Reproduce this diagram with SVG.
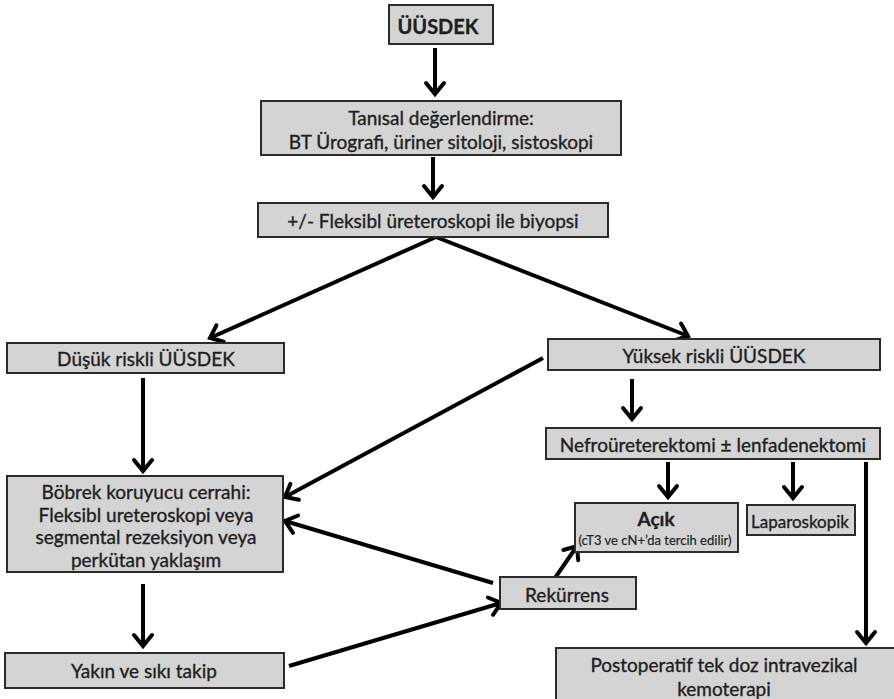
<svg xmlns="http://www.w3.org/2000/svg" width="894" height="699" viewBox="0 0 894 699">
<defs>
<marker id="ah" markerUnits="userSpaceOnUse" markerWidth="30" markerHeight="30" viewBox="-15 -15 30 30" refX="0" refY="0" orient="auto">
<path d="M -11 -9 L 0 0 L -11 9" fill="none" stroke="#000" stroke-width="4" stroke-linecap="round" stroke-linejoin="miter"/>
</marker>
<style>
.box{fill:#d4d4d4;stroke:#2b2b2b;stroke-width:2}
.t{font-family:Lato,"Open Sans","Liberation Sans",sans-serif;font-size:19px;fill:#1e1e1e;stroke:#1e1e1e;stroke-width:0.35px;text-anchor:middle;dominant-baseline:central}
.b{font-weight:bold}
.s{font-size:13px;stroke-width:0.2px}
.c{fill:none;stroke:#000;stroke-width:4;marker-end:url(#ah)}
</style>
</defs>
<rect width="894" height="699" fill="#fff"/>
<g id="connectors">
<line class="c" x1="435" y1="48" x2="435" y2="94"/>
<line class="c" x1="433" y1="157" x2="433" y2="197"/>
<line class="c" x1="436" y1="237" x2="210" y2="338"/>
<line class="c" x1="436" y1="237" x2="688" y2="336"/>
<line class="c" x1="143" y1="378" x2="143" y2="471"/>
<line class="c" x1="543" y1="358" x2="285" y2="497"/>
<line class="c" x1="493" y1="583" x2="285" y2="521"/>
<line class="c" x1="632" y1="379" x2="632" y2="419"/>
<line class="c" x1="668" y1="462" x2="668" y2="497"/>
<line class="c" x1="793" y1="462" x2="793" y2="498"/>
<line class="c" x1="866" y1="462" x2="866" y2="643"/>
<line class="c" x1="555" y1="578" x2="577" y2="546"/>
<line class="c" x1="143" y1="584" x2="143" y2="646"/>
<line class="c" x1="289" y1="666" x2="501" y2="603"/>
</g>
<g id="n_uusdek"><rect class="box" x="389" y="5" width="104" height="39"/><text class="t b" x="438" y="26" style="font-size:20px">ÜÜSDEK</text></g>
<g id="n_tanisal"><rect class="box" x="261" y="101" width="360" height="54"/><text class="t" x="441" y="117">Tanısal değerlendirme:</text><text class="t" x="441" y="141">BT Ürografi, üriner sitoloji, sistoskopi</text></g>
<g id="n_fleksibl"><rect class="box" x="258" y="203" width="350" height="34"/><text class="t" x="433" y="220">+/- Fleksibl üreteroskopi ile biyopsi</text></g>
<g id="n_dusuk"><rect class="box" x="7" y="343" width="277" height="30"/><text class="t" x="146" y="358">Düşük riskli ÜÜSDEK</text></g>
<g id="n_yuksek"><rect class="box" x="548" y="339" width="332" height="31"/><text class="t" x="714" y="355">Yüksek riskli ÜÜSDEK</text></g>
<g id="n_bobrek"><rect class="box" x="7" y="476" width="276" height="96"/><text class="t" x="146" y="491">Böbrek koruyucu cerrahi:</text><text class="t" x="146" y="514">Fleksibl ureteroskopi veya</text><text class="t" x="146" y="536">segmental rezeksiyon veya</text><text class="t" x="146" y="559">perkütan yaklaşım</text></g>
<g id="n_nefro"><rect class="box" x="546" y="428" width="334" height="31"/><text class="t" x="713" y="444">Nefroüreterektomi ± lenfadenektomi</text></g>
<g id="n_acik"><rect class="box" x="575" y="503" width="163" height="49"/><text class="t b" x="656" y="518">Açık</text><text class="t s" x="655" y="540">(cT3 ve cN+’da tercih edilir)</text></g>
<g id="n_laparoskopik"><rect class="box" x="747" y="505" width="108" height="30"/><text class="t" x="800" y="521" style="font-size:17px">Laparoskopik</text></g>
<g id="n_rekurrens"><rect class="box" x="500" y="577" width="136" height="32"/><text class="t" x="567" y="594">Rekürrens</text></g>
<g id="n_yakin"><rect class="box" x="5" y="653" width="279" height="35"/><text class="t" x="144" y="670">Yakın ve sıkı takip</text></g>
<g id="n_postop"><rect class="box" x="556" y="648" width="340" height="54"/><text class="t" x="724" y="664">Postoperatif tek doz intravezikal</text><text class="t" x="724" y="688">kemoterapi</text></g>
</svg>
